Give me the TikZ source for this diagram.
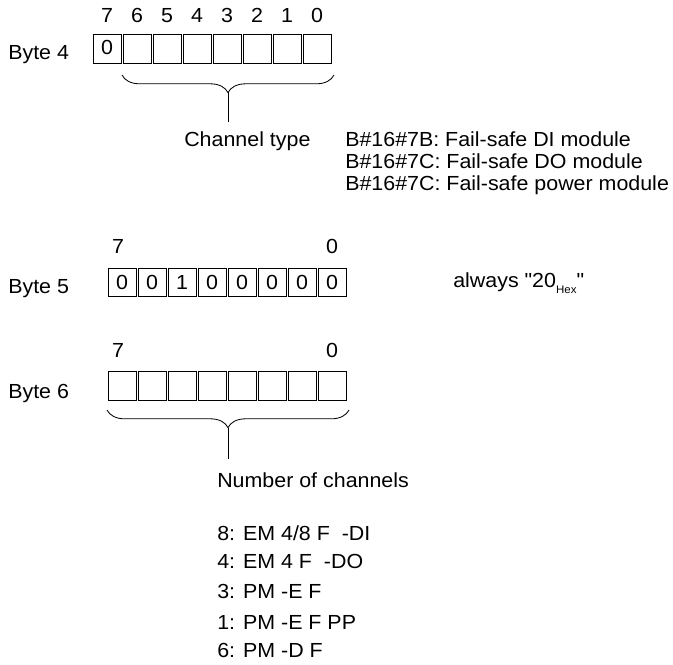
\documentclass[tikz,border=0pt]{standalone}
\usepackage{fontspec}
\setmainfont{Liberation Sans}[FakeStretch=1.05,Ligatures=TeXOff]
\usepackage{tikz}
\usetikzlibrary{decorations.pathreplacing}

\begin{document}
\begin{tikzpicture}[x=0.025cm,y=-0.025cm,
    txt/.style={font=\fontsize{14.5}{16}\selectfont,inner sep=0pt,text=black},
    cell/.style={txt,draw,line width=0.6pt,minimum width=0.7cm,minimum height=0.72cm},
    brc/.style={decorate,decoration={brace,amplitude=0.44cm},line width=0.6pt}]
    \useasboundingbox (0,0) rectangle (673,665);
    % Byte 4
    \node[txt,anchor=base west] (b4) at (8,59) {Byte 4};
    \foreach \i in {0,...,7} {
        \pgfmathtruncatemacro{\bit}{7-\i}
        \node[txt,anchor=base] (n4\bit) at (107+30*\i,22) {\bit};
        \node[cell] (c4\bit) at (107+30*\i,49) {};
    }
    \node[txt] (v47) at (107,47) {0};
    \draw[brc] (334,75) -- (122,75);
    \coordinate (t4) at (228,92);
    \coordinate (e4) at (228,122);
    \draw[line width=0.6pt] (t4) -- (e4);
    \node[txt,anchor=base west] (chtype) at (184,146) {Channel type};
    \foreach \t/\yy [count=\k] in {{B\#16\#7B: Fail-safe DI module}/146,
        {B\#16\#7C: Fail-safe DO module}/168,
        {B\#16\#7C: Fail-safe power module}/190}
        \node[txt,anchor=base west] (ct\k) at (345,\yy) {\t};
    % Byte 5
    \node[txt,anchor=base west] (b5) at (8,293) {Byte 5};
    \node[txt,anchor=base] (n57) at (118,253) {7};
    \node[txt,anchor=base] (n50) at (332,253) {0};
    \foreach \v [count=\i from 0] in {0,0,1,0,0,0,0,0} {
        \pgfmathtruncatemacro{\bit}{7-\i}
        \node[cell] (c5\bit) at (122+30*\i,282.5) {\v};
    }
    \node[txt,anchor=base west] (hex) at (453,287)
        {always "20\raisebox{-4.3pt}{\fontsize{7.8}{9}\selectfont Hex}"};
    % Byte 6
    \node[txt,anchor=base west] (b6) at (8,398) {Byte 6};
    \node[txt,anchor=base] (n67) at (118,357) {7};
    \node[txt,anchor=base] (n60) at (332,357) {0};
    \foreach \i in {0,...,7} {
        \pgfmathtruncatemacro{\bit}{7-\i}
        \node[cell] (c6\bit) at (122+30*\i,386) {};
    }
    \draw[brc] (349,410) -- (107,410);
    \coordinate (t6) at (228,428);
    \coordinate (e6) at (228,459);
    \draw[line width=0.6pt] (t6) -- (e6);
    \node[txt,anchor=base west] (nch) at (217,487) {Number of channels};
    \foreach \t/\yy [count=\k] in {{8: EM 4/8 F\ \ -DI}/540,
        {4: EM 4 F\ \ -DO}/568,
        {3: PM -E F}/598,
        {1: PM -E F PP}/629,
        {6: PM -D F}/657}
        \node[txt,anchor=base west] (nc\k) at (217,\yy) {\t};
\end{tikzpicture}
\end{document}
